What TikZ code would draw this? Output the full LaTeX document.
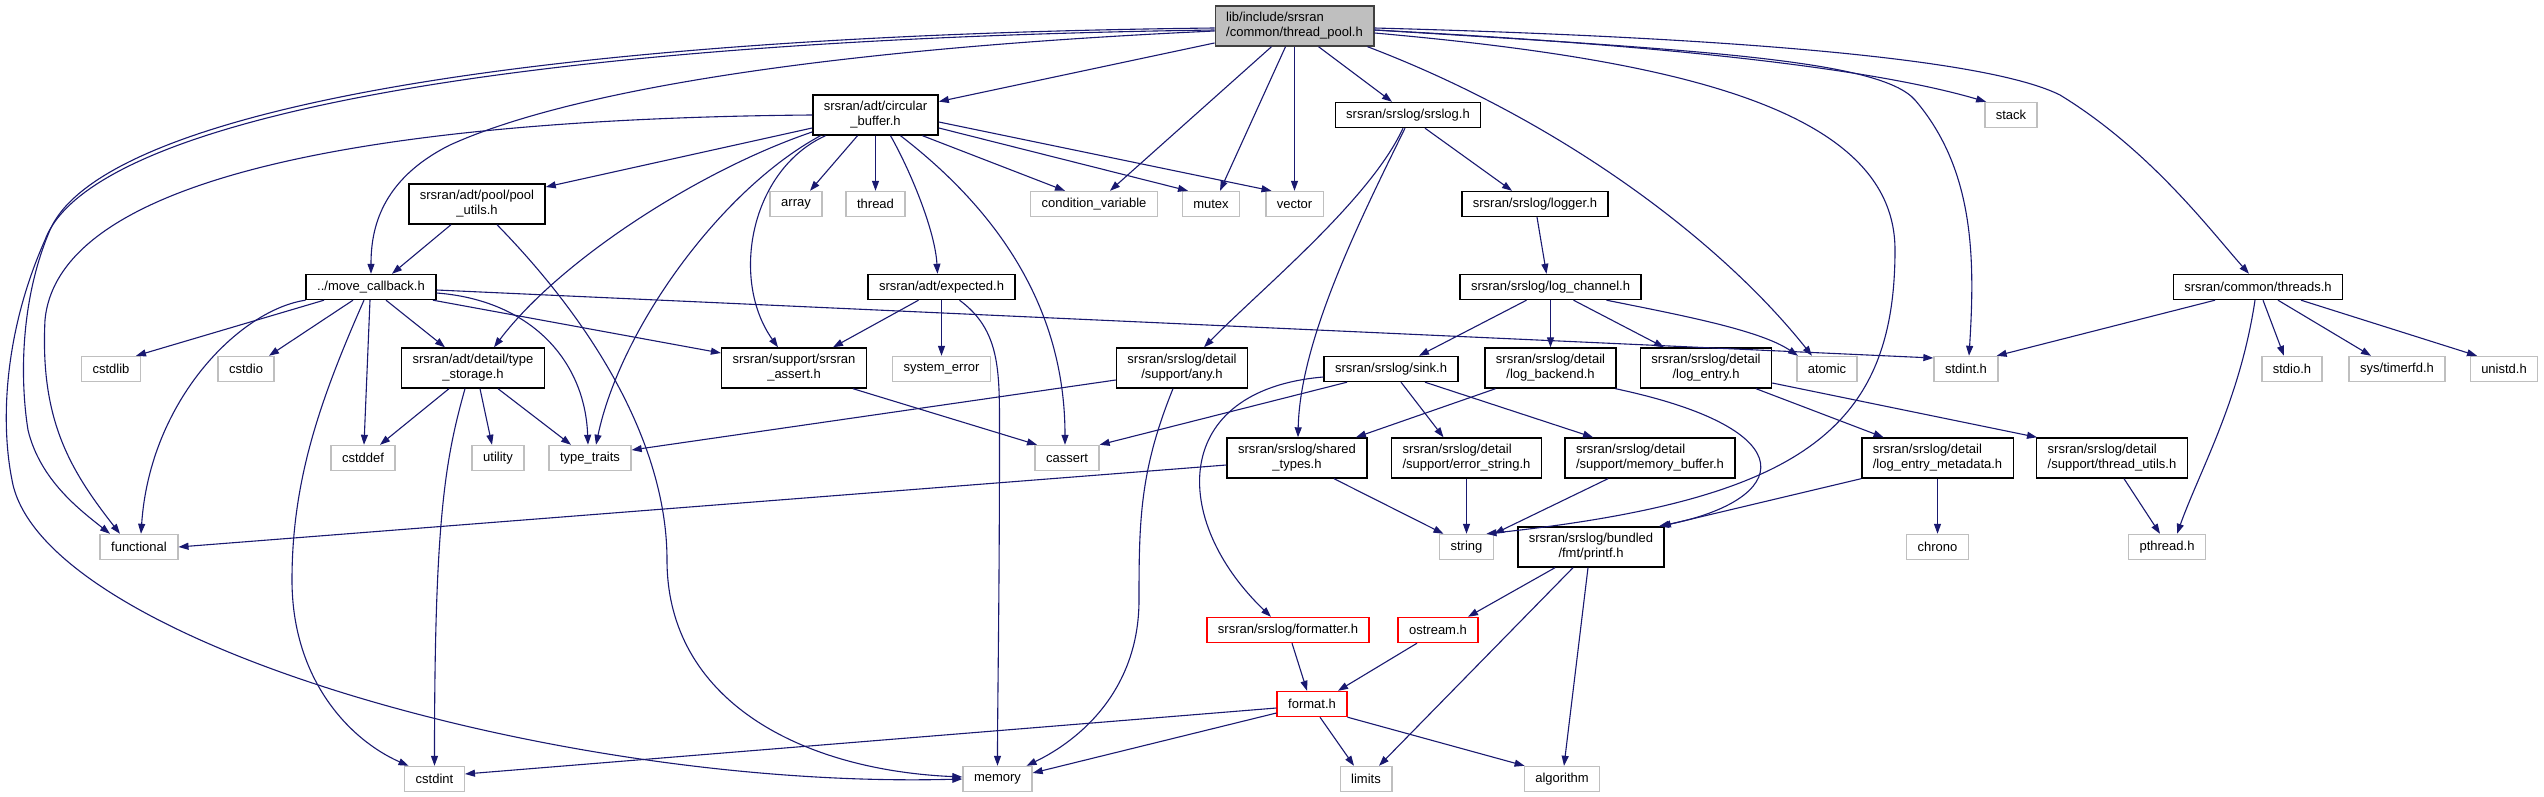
\documentclass[tikz,border=0pt]{standalone}
\usepackage{fontspec}
\setmainfont{Liberation Sans}
\usetikzlibrary{arrows.meta}
\definecolor{edgec}{HTML}{191970}
\definecolor{sysc}{HTML}{BFBFBF}
\definecolor{rootfill}{HTML}{BFBFBF}
\definecolor{rootdraw}{HTML}{404040}
\begin{document}
\begin{tikzpicture}[x=1pt,y=-1pt,
  nd/.style={draw=black, line width=1.4pt, fill=white, font=\fontsize{13}{15}\selectfont, inner xsep=11pt, inner ysep=2pt, minimum height=25pt, align=center},
  two/.style={minimum height=40pt},
  lft/.style={align=left},
  sys/.style={nd, draw=sysc},
  tr/.style={nd, draw=red},
  root/.style={nd, two, lft, fill=rootfill, draw=rootdraw},
  e/.style={draw=edgec, line width=1.1pt, -{Triangle[length=10pt,width=7pt]}},
]
\useasboundingbox[fill=white] (0,0) rectangle (2544,797);

% row 0
\node[root] (tp) at (1294.5,26) {lib/include/srsran\\/common/thread\_pool.h};
% row 1
\node[nd,two] (cb) at (875.5,115) {srsran/adt/circular\\\_buffer.h};
\node[nd] (srslog) at (1408,115) {srsran/srslog/srslog.h};
\node[sys] (stack) at (2011,115) {stack};
% row 2
\node[nd,two] (pool) at (477,204) {srsran/adt/pool/pool\\\_utils.h};
\node[sys] (array) at (796,204) {array};
\node[sys] (thread) at (875.5,204) {thread};
\node[sys] (condvar) at (1094,204) {condition\_variable};
\node[sys] (mutex) at (1211,204) {mutex};
\node[sys] (vector) at (1294.5,204) {vector};
\node[nd] (logger) at (1535,204) {srsran/srslog/logger.h};
% row 3
\node[nd] (mc) at (371,287) {../move\_callback.h};
\node[nd] (expected) at (941.5,287) {srsran/adt/expected.h};
\node[nd] (lc) at (1550.5,287) {srsran/srslog/log\_channel.h};
\node[nd] (threads) at (2258,287) {srsran/common/threads.h};
% row 4
\node[sys] (cstdlib) at (111,369) {cstdlib};
\node[sys] (cstdio) at (246,369) {cstdio};
\node[nd,two] (ts) at (473,368) {srsran/adt/detail/type\\\_storage.h};
\node[nd,two] (assert) at (794,368) {srsran/support/srsran\\\_assert.h};
\node[sys] (syserr) at (941.5,369) {system\_error};
\node[nd,two] (any) at (1182,368) {srsran/srslog/detail\\/support/any.h};
\node[nd] (sink) at (1391,369) {srsran/srslog/sink.h};
\node[nd,two] (backend) at (1550.5,368) {srsran/srslog/detail\\/log\_backend.h};
\node[nd,two] (entry) at (1706,368) {srsran/srslog/detail\\/log\_entry.h};
\node[sys] (atomic) at (1827,369) {atomic};
\node[sys] (stdint) at (1966,369) {stdint.h};
\node[sys] (stdio) at (2292,369) {stdio.h};
\node[sys] (timerfd) at (2397,369) {sys/timerfd.h};
\node[sys] (unistd) at (2504,369) {unistd.h};
% row 5
\node[sys] (cstddef) at (363,458) {cstddef};
\node[sys] (utility) at (498,458) {utility};
\node[sys] (typetraits) at (590,458) {type\_traits};
\node[sys] (cassert) at (1067,458) {cassert};
\node[nd,two] (shared) at (1297,458) {srsran/srslog/shared\\\_types.h};
\node[nd,two,lft] (errstr) at (1466.5,458) {srsran/srslog/detail\\/support/error\_string.h};
\node[nd,two,lft] (membuf) at (1650,458) {srsran/srslog/detail\\/support/memory\_buffer.h};
\node[nd,two,lft] (metadata) at (1937.5,458) {srsran/srslog/detail\\/log\_entry\_metadata.h};
\node[nd,two,lft] (thrutils) at (2112,458) {srsran/srslog/detail\\/support/thread\_utils.h};
% row 6
\node[sys] (functional) at (139,547) {functional};
\node[sys] (string) at (1466.5,547) {string};
\node[nd,two] (printf) at (1591,547) {srsran/srslog/bundled\\/fmt/printf.h};
\node[sys] (chrono) at (1937.5,547) {chrono};
\node[sys] (pthread) at (2167,547) {pthread.h};
% row 7-9
\node[tr] (formatter) at (1288,630) {srsran/srslog/formatter.h};
\node[tr] (ostream) at (1438,630) {ostream.h};
\node[tr] (format) at (1312,704) {format.h};
\node[sys] (cstdint) at (434.5,779) {cstdint};
\node[sys] (memory) at (997.5,779) {memory};
\node[sys] (limits) at (1366,779) {limits};
\node[sys] (algorithm) at (1562,779) {algorithm};

% ---- edges from thread_pool
\draw[e] (tp) -- (cb);
\draw[e] ([xshift=-23pt]tp.south) -- ([xshift=16pt]condvar.north);
\draw[e] ([xshift=-9pt]tp.south) -- ([xshift=9pt]mutex.north);
\draw[e] (tp) -- (vector);
\draw[e] ([xshift=24pt]tp.south) -- ([xshift=-16pt]srslog.north);
\draw[e] ([xshift=73pt]tp.south) .. controls (1560,120) and (1720,240) .. ([xshift=-15pt]atomic.north);
\draw[e] ([yshift=-7pt]tp.east) .. controls (1680,60) and (1895,110) .. (1895,250) .. controls (1895,430) and (1800,500) .. ([xshift=20pt]string.north);
\draw[e] ([yshift=-4pt]tp.east) .. controls (1700,50) and (1880,60) .. (1915,100) .. controls (1975,170) and (1975,260) .. ([xshift=3pt]stdint.north);
\draw[e] ([yshift=-4pt]tp.east) .. controls (1600,42) and (1850,62) .. ([xshift=2pt]stack.north west);
\draw[e] ([yshift=-2pt]tp.east) .. controls (1750,38) and (1990,60) .. (2060,95) .. controls (2150,150) and (2210,230) .. ([xshift=-9pt]threads.north);
\draw[e] ([yshift=-5pt]tp.west) .. controls (800,50) and (560,95) .. (450,145) .. controls (380,180) and (371,230) .. (mc.north);
\draw[e] ([yshift=-2pt]tp.west) .. controls (500,36) and (100,115) .. (50,230) .. controls (20,300) and (20,380) .. (28,430) .. controls (40,480) and (80,510) .. ([xshift=-29pt]functional.north);
\draw[e] ([yshift=-4pt]tp.west) .. controls (500,40) and (90,120) .. (45,240) .. controls (5,330) and (0,420) .. (12,480) .. controls (40,640) and (560,790) .. (memory.west);

% ---- circular_buffer
\draw[e] ([yshift=-13pt]cb.west) -- ([yshift=17pt]pool.east);
\draw[e] (cb.west) .. controls (450,118) and (60,160) .. (45,320) .. controls (40,420) and (70,470) .. ([xshift=-19pt]functional.north);
\draw[e] ([yshift=-17pt]cb.west) .. controls (700,170) and (560,260) .. ([xshift=21pt]ts.north);
\draw[e] ([xshift=-55pt]cb.south) .. controls (720,190) and (620,330) .. ([xshift=6pt]typetraits.north);
\draw[e] ([xshift=-50pt]cb.south) .. controls (750,170) and (730,280) .. ([xshift=-16pt]assert.north);
\draw[e] ([xshift=-18pt]cb.south) -- ([xshift=14pt]array.north);
\draw[e] (cb) -- (thread);
\draw[e] ([xshift=47pt]cb.south) -- ([xshift=-29pt]condvar.north);
\draw[e] ([yshift=-13pt]cb.east) -- ([xshift=-23pt]mutex.north);
\draw[e] ([yshift=-7pt]cb.east) -- ([xshift=-23pt]vector.north);
\draw[e] ([xshift=15pt]cb.south) .. controls (910,170) and (935,230) .. ([xshift=-4pt]expected.north);
\draw[e] ([xshift=25pt]cb.south) .. controls (1010,220) and (1065,320) .. ([xshift=-2pt]cassert.north);

% ---- pool_utils
\draw[e] ([xshift=-26pt]pool.south) -- ([xshift=21pt]mc.north);
\draw[e] ([xshift=20pt]pool.south) .. controls (600,330) and (667,450) .. (667,560) .. controls (667,700) and (800,770) .. ([yshift=2pt]memory.west);

% ---- move_callback
\draw[e] (mc.south west) .. controls (240,310) and (150,400) .. ([xshift=2pt]functional.north);
\draw[e] ([xshift=-47pt]mc.south) -- ([xshift=25pt]cstdlib.north);
\draw[e] ([xshift=-18pt]mc.south) -- ([xshift=23pt]cstdio.north);
\draw[e] ([xshift=-7pt]mc.south) .. controls (320,400) and (292,480) .. (292,580) .. controls (292,680) and (350,740) .. ([xshift=-26pt]cstdint.north);
\draw[e] ([xshift=-1pt]mc.south) -- ([xshift=1pt]cstddef.north);
\draw[e] ([xshift=15pt]mc.south) -- ([xshift=-28pt]ts.north);
\draw[e] ([xshift=62pt]mc.south) -- ([yshift=15pt]assert.west);
\draw[e] ([yshift=-6pt]mc.east) .. controls (530,300) and (585,360) .. ([xshift=-2pt]typetraits.north);
\draw[e] ([yshift=-3pt]mc.east) -- ([yshift=11pt]stdint.west);

% ---- type_storage
\draw[e] ([xshift=-24pt]ts.south) -- ([xshift=17pt]cstddef.north);
\draw[e] ([xshift=-8pt]ts.south) .. controls (445,460) and (434.5,520) .. (cstdint.north);
\draw[e] ([xshift=7pt]ts.south) -- ([xshift=-6pt]utility.north);
\draw[e] ([xshift=25pt]ts.south) -- ([xshift=-19pt]typetraits.north);

% ---- expected
\draw[e] ([xshift=-23pt]expected.south) -- ([xshift=39pt]assert.north);
\draw[e] (expected) -- (syserr);
\draw[e] ([xshift=18pt]expected.south) .. controls (1000,330) and (999.5,370) .. (999.5,430) .. controls (999.5,600) and (997.5,700) .. (memory.north);

% ---- srsran_assert
\draw[e] ([xshift=59pt]assert.south) -- ([xshift=-30pt]cassert.north);

% ---- srslog
\draw[e] ([xshift=17pt]srslog.south) -- ([xshift=-23pt]logger.north);
\draw[e] ([xshift=-5pt]srslog.south) .. controls (1370,200) and (1260,290) .. ([xshift=22pt]any.north);
\draw[e] ([xshift=-3pt]srslog.south) .. controls (1360,220) and (1300,340) .. ([xshift=1pt]shared.north);
\draw[e] ([xshift=2pt]logger.south) -- ([xshift=-4pt]lc.north);

% ---- log_channel
\draw[e] ([xshift=-24pt]lc.south) -- ([xshift=28pt]sink.north);
\draw[e] (lc) -- (backend);
\draw[e] ([xshift=23pt]lc.south) -- ([xshift=-42pt]entry.north);
\draw[e] ([xshift=56pt]lc.south) .. controls (1680,315) and (1760,330) .. ([xshift=-29pt]atomic.north);

% ---- sink
\draw[e] ([xshift=-44pt]sink.south) -- (cassert.north east);
\draw[e] ([yshift=-8pt]sink.west) .. controls (1170,390) and (1170,520) .. ([xshift=-17pt]formatter.north);
\draw[e] ([xshift=10pt]sink.south) -- ([xshift=-23pt]errstr.north);
\draw[e] ([xshift=34pt]sink.south) -- ([xshift=-57pt]membuf.north);

% ---- log_backend
\draw[e] ([xshift=-55pt]backend.south) -- ([xshift=59pt]shared.north);
\draw[e] ([xshift=65pt]backend.south) .. controls (1810,430) and (1790,500) .. ([xshift=-6pt]printf.north east);

% ---- log_entry
\draw[e] ([xshift=50pt]entry.south) -- ([xshift=-54pt]metadata.north);
\draw[e] ([yshift=-15pt]entry.east) -- ([xshift=1pt]thrutils.north west);
\draw[e] (metadata.south west) -- ([xshift=-4pt]printf.north east);
\draw[e] (metadata) -- (chrono);
\draw[e] ([xshift=12pt]thrutils.south) -- ([xshift=-7pt]pthread.north);

% ---- threads
\draw[e] ([xshift=-43pt]threads.south) -- ([xshift=-2pt]stdint.north east);
\draw[e] ([xshift=5pt]threads.south) -- ([xshift=-8pt]stdio.north);
\draw[e] ([xshift=20pt]threads.south) -- ([xshift=-26pt]timerfd.north);
\draw[e] ([xshift=43pt]threads.south) -- ([xshift=-27pt]unistd.north);
\draw[e] ([xshift=-3pt]threads.south) .. controls (2240,400) and (2200,470) .. ([xshift=10pt]pthread.north);

% ---- any
\draw[e] ([yshift=-12pt]any.west) -- ([yshift=8pt]typetraits.east);
\draw[e] ([xshift=-9pt]any.south) .. controls (1140,470) and (1139,520) .. (1139,600) .. controls (1139,690) and (1080,740) .. ([xshift=29pt]memory.north);

% ---- shared_types etc.
\draw[e] ([xshift=37pt]shared.south) -- ([xshift=-23pt]string.north);
\draw[e] ([yshift=-7pt]shared.west) -- (functional.east);
\draw[e] (errstr.south) -- (string.north);
\draw[e] ([xshift=-42pt]membuf.south) -- (string.north east);

% ---- printf
\draw[e] ([xshift=-36pt]printf.south) -- ([xshift=30pt]ostream.north);
\draw[e] ([xshift=-18pt]printf.south) -- ([xshift=13pt]limits.north);
\draw[e] ([xshift=-3pt]printf.south) -- ([xshift=2pt]algorithm.north);

% ---- formatter / ostream / format
\draw[e] ([xshift=4pt]formatter.south) -- ([xshift=-5pt]format.north);
\draw[e] ([xshift=-21pt]ostream.south) -- ([xshift=26pt]format.north);
\draw[e] ([yshift=-4pt]format.west) -- ([yshift=5pt]cstdint.east);
\draw[e] ([yshift=-9pt]format.west) -- ([yshift=6pt]memory.east);
\draw[e] ([xshift=8pt]format.south) -- ([xshift=-12pt]limits.north);
\draw[e] (format.south east) -- ([xshift=1pt]algorithm.north west);
\end{tikzpicture}
\end{document}
